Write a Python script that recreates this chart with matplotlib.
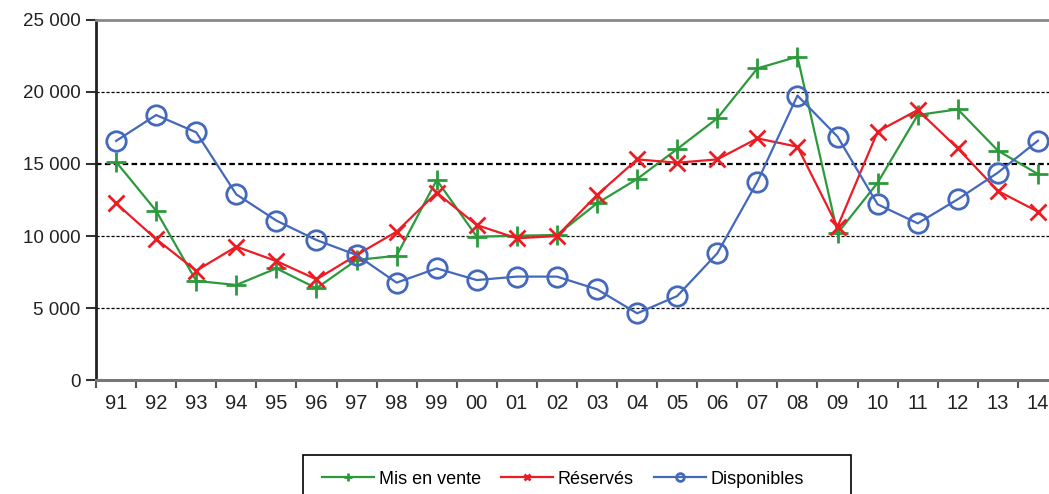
import matplotlib
matplotlib.use("Agg")
import matplotlib.pyplot as plt
from matplotlib.ticker import FuncFormatter, FixedLocator
from matplotlib.patches import Rectangle

plt.rcParams['font.family'] = ['Liberation Sans', 'DejaVu Sans']

years = ["91", "92", "93", "94", "95", "96", "97", "98", "99", "00", "01", "02",
         "03", "04", "05", "06", "07", "08", "09", "10", "11", "12", "13", "14"]
mis_en_vente = [15150, 11750, 6880, 6600, 7750, 6370, 8330, 8630, 13890, 9950, 10020, 10070,
                12270, 13960, 16040, 18170, 21640, 22450, 10190, 13700, 18400, 18800, 15930, 14300]
reserves = [12270, 9790, 7590, 9260, 8260, 6990, 8680, 10300, 13010, 10760, 9840, 10000,
            12850, 15320, 15090, 15320, 16780, 16200, 10650, 17250, 18750, 16090, 13130, 11690]
disponibles = [16600, 18400, 17200, 12890, 11070, 9720, 8680, 6760, 7750, 6940, 7180, 7180,
               6300, 4630, 5830, 8800, 13770, 19750, 16900, 12200, 10880, 12550, 14400, 16620]

green = "#2C9A3C"
red = "#EC1C24"
blue = "#4468BC"

fig = plt.figure(figsize=(10.49, 4.94), dpi=100)
ax = fig.add_axes([96/1049, 1-380/494, 962/1049, 360/494])

x = list(range(len(years)))
ax.plot(x, mis_en_vente, color=green, lw=1.6, marker="+", ms=14, mew=2,
        label="Mis en vente", zorder=3)
ax.plot(x, reserves, color=red, lw=1.6, marker="x", ms=11, mew=2,
        label="Réservés", zorder=3)
ax.plot(x, disponibles, color=blue, lw=1.6, marker="o", ms=14, mew=2,
        mfc="none", label="Disponibles", zorder=3)

ax.set_xlim(-0.5, len(years) - 0.5)
ax.set_ylim(0, 25000)
ax.set_xticks(x)
ax.set_xticklabels(years)
ax.xaxis.set_minor_locator(FixedLocator([i - 0.5 for i in range(len(years) + 1)]))
ax.tick_params(axis="x", which="major", length=0, pad=10, labelsize=14.5, colors="#222222")
ax.tick_params(axis="x", which="minor", length=6, width=1.5, color="#555555", direction="out")
ax.set_yticks([0, 5000, 10000, 15000, 20000, 25000])
ax.yaxis.set_major_formatter(FuncFormatter(lambda v, p: f"{int(v):,}".replace(",", " ")))
ax.tick_params(axis="y", length=7, width=1.5, color="#333333", labelsize=13.5,
               labelcolor="#222222", pad=4)

for yv in [5000, 10000, 15000, 20000]:
    ax.axhline(yv, color="black", lw=1.6 if yv == 15000 else 0.9,
               ls=(0, (2.5, 1.5)), zorder=1)

ax.spines["left"].set_color("#222222")
ax.spines["left"].set_linewidth(2)
ax.spines["bottom"].set_color("#777777")
ax.spines["bottom"].set_linewidth(2.2)
ax.spines["top"].set_color("#888888")
ax.spines["top"].set_linewidth(2)
ax.spines["right"].set_visible(False)

# legend frame (extends past the bottom edge, as in the reference)
fig.patches.append(Rectangle((303/1049, -0.05), (851-303)/1049, (1-455/494) + 0.05,
                             transform=fig.transFigure, fill=False,
                             edgecolor="black", lw=1.2))
leg = fig.legend(loc="center left", bbox_to_anchor=(322/1049, 1-479/494), ncol=3,
                 frameon=False, fontsize=13,
                 handlelength=2.9, markerscale=0.4, columnspacing=1.1,
                 handletextpad=0.25, borderpad=0, borderaxespad=0)

fig.savefig("out.png", dpi=100)
